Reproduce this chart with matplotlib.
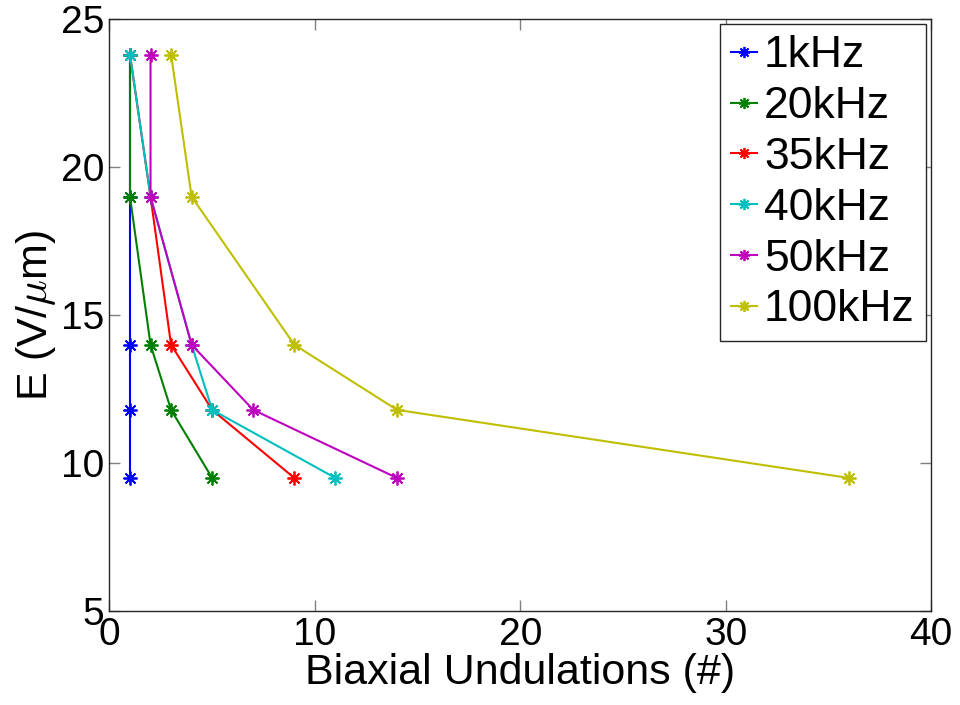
import matplotlib
matplotlib.use("Agg")
import matplotlib.pyplot as plt

plt.rcParams['font.family'] = ['Liberation Sans', 'DejaVu Sans']
plt.rcParams['mathtext.fontset'] = 'cm'

# electric field steps (V/um) and undulation counts per drive frequency
field = [23.8, 19, 14, 11.8, 9.5]
labels = ['1kHz', '20kHz', '35kHz', '40kHz', '50kHz', '100kHz']
undulations = [
    [1, 1, 1, 1, 1],
    [1, 1, 2, 3, 5],
    [1, 2, 3, 5, 9],
    [1, 2, 4, 5, 11],
    [2, 2, 4, 7, 14],
    [3, 4, 9, 14, 36],
]
colors = [(0, 0, 1), (0, 0.5, 0), (1, 0, 0), (0, 0.75, 0.75), (0.75, 0, 0.75), (0.75, 0.75, 0)]

star = (8, 2, 0)  # plus + cross, like the classic asterisk marker

fig = plt.figure(figsize=(9.6, 7.05), dpi=100)
ax = fig.add_axes([0.114, 0.133, 0.856, 0.840])

for n, lab, c in zip(undulations, labels, colors):
    ax.plot(n, field, '-', marker=star, color=c, lw=1.5, ms=10, mew=1.3, label=lab)

ax.set_xlim(0, 40)
ax.set_ylim(5, 25)
ax.set_xticks([0, 10, 20, 30, 40])
ax.set_yticks([5, 10, 15, 20, 25])
ax.tick_params(direction='in', length=8, width=1, color='0.5', labelsize=28,
               top=True, right=True, pad=4)
for s in ax.spines.values():
    s.set_linewidth(1)
    s.set_color('0.15')

ax.set_xlabel('Biaxial Undulations (#)', fontsize=31, labelpad=0)
ax.set_ylabel('E (V/$\\mu$m)', fontsize=31, labelpad=2)

leg = ax.legend(loc='upper right', fontsize=32, handlelength=0.6, handletextpad=0.15,
                labelspacing=0.22, borderpad=0.25, borderaxespad=0.12,
                fancybox=False, framealpha=1, markerscale=0.8)
leg.get_frame().set_edgecolor('0.15')
leg.get_frame().set_linewidth(1)

fig.savefig('out.png', dpi=100)
